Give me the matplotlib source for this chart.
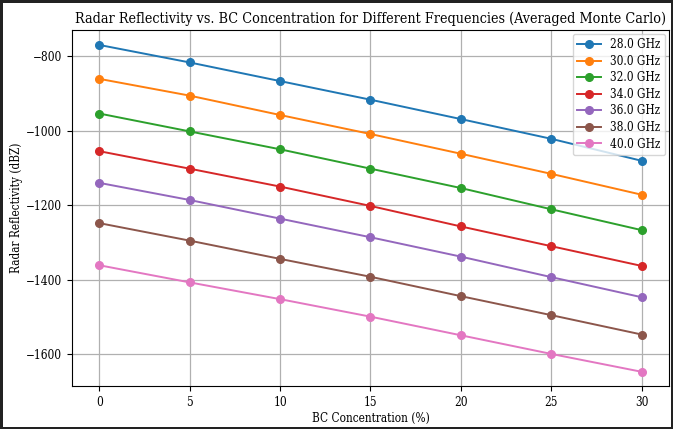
import matplotlib
matplotlib.use("Agg")
import matplotlib.pyplot as plt

# BC concentration (%) on the x axis
bc_conc = [0, 5, 10, 15, 20, 25, 30]

# averaged Monte Carlo reflectivity (dBZ), one list per frequency
z_28 = [-770, -817, -867, -917, -969, -1022, -1081]
z_30 = [-861, -906, -958, -1009, -1062, -1116, -1172]
z_32 = [-954, -1002, -1050, -1102, -1154, -1211, -1267]
z_34 = [-1055, -1102, -1150, -1202, -1257, -1310, -1363]
z_36 = [-1140, -1186, -1236, -1286, -1338, -1393, -1447]
z_38 = [-1248, -1295, -1344, -1392, -1444, -1495, -1547]
z_40 = [-1361, -1407, -1452, -1499, -1549, -1599, -1647]

freqs = [28.0, 30.0, 32.0, 34.0, 36.0, 38.0, 40.0]
series = [z_28, z_30, z_32, z_34, z_36, z_38, z_40]

plt.rcParams['font.family'] = ['DejaVu Serif']
plt.rcParams['font.stretch'] = 'condensed'

fig = plt.figure(figsize=(6.73, 4.29), dpi=100)
fig.patch.set_edgecolor('#222222')
fig.patch.set_linewidth(2.2)
ax = fig.add_axes([72 / 673, 43 / 429, 597 / 673, 356 / 429])

for f, z in zip(freqs, series):
    ax.plot(bc_conc, z, marker='o', markersize=5.5, linewidth=1.4, label=f'{f} GHz')

ax.set_title('Radar Reflectivity vs. BC Concentration for Different Frequencies (Averaged Monte Carlo)',
             fontsize=10.3, pad=5)
ax.set_xlabel('BC Concentration (%)', fontsize=8.5, labelpad=2)
ax.set_ylabel('Radar Reflectivity (dBZ)', fontsize=8.5, labelpad=2)
ax.tick_params(labelsize=8.5)
ax.set_xticks([0, 5, 10, 15, 20, 25, 30])
ax.set_yticks([-800, -1000, -1200, -1400, -1600])
ax.set_ylim(-1685, -730)
ax.grid(True, color='#b0b0b0', linewidth=0.9)
ax.legend(loc='upper right', fontsize=8.5, handlelength=2, borderaxespad=0.3,
          labelspacing=0.3)

fig.savefig('out.png', dpi=100, edgecolor=fig.get_edgecolor())
